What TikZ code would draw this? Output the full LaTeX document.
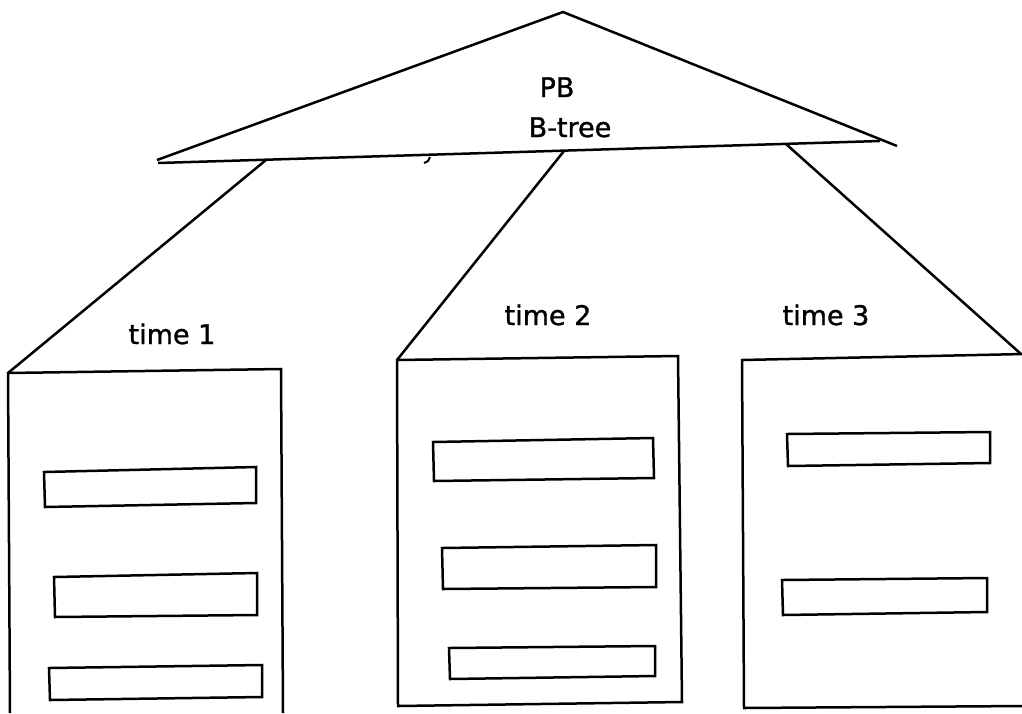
\documentclass[tikz,border=0pt]{standalone}
\usepackage{fontspec}
\setmainfont{DejaVu Sans}
\newfontfamily\lblfont{DejaVu Sans}[FakeBold=1.2]
\begin{document}
\begin{tikzpicture}[x=1pt,y=-1pt,
  outline/.style={draw=black,line width=2.5pt,line join=miter},
  label/.style={font=\lblfont\fontsize{27}{32}\selectfont,anchor=base,inner sep=0pt}]
\useasboundingbox[fill=white] (0,0) rectangle (1022,713);

% PB B-tree triangle
\coordinate (apex) at (563,12);
\coordinate (tl) at (157,160);
\coordinate (tr) at (897,146);
\coordinate (bl) at (158,163);
\coordinate (br) at (880,141);
\draw[outline] (tl) -- (apex) -- (tr);
\draw[outline] (bl) -- (br);
\draw[line width=2pt] (430,157) -- (428,161) -- (424,163);
\node[label] (pb) at (557,97) {PB};
\node[label] (bt) at (570,137) {B-tree};

% exits on the base of the tree
\coordinate (e1) at (266,160);
\coordinate (e2) at (564,151);
\coordinate (e3) at (786,144);

% time 1 page
\coordinate (p1tl) at (8,373);
\coordinate (p1tr) at (281,369);
\draw[outline] (10,713) -- (p1tl) -- (p1tr) -- (283,713);
\draw[outline] (44,472) -- (256,467) -- (256,503) -- (45,507) -- cycle;
\draw[outline] (54,577) -- (257,573) -- (257,615) -- (55,617) -- cycle;
\draw[outline] (49,668) -- (262,665) -- (262,697) -- (50,700) -- cycle;
\node[label] (t1) at (172,344) {time 1};

% time 2 page
\coordinate (p2tl) at (397,360);
\coordinate (p2tr) at (678,356);
\draw[outline] (p2tl) -- (p2tr) -- (682,702) -- (398,706) -- cycle;
\draw[outline] (433,442) -- (653,438) -- (654,478) -- (434,481) -- cycle;
\draw[outline] (442,548) -- (656,545) -- (656,587) -- (443,589) -- cycle;
\draw[outline] (449,648) -- (655,646) -- (655,676) -- (450,679) -- cycle;
\node[label] (t2) at (548,325) {time 2};

% time 3 page
\coordinate (p3tl) at (742,360);
\coordinate (p3tr) at (1021,354);
\draw[outline] (1024,706) -- (744,708) -- (p3tl) -- (1024,354);
\draw[outline] (787,434) -- (990,432) -- (990,463) -- (788,466) -- cycle;
\draw[outline] (782,580) -- (987,578) -- (987,612) -- (783,615) -- cycle;
\node[label] (t3) at (826,325) {time 3};

% connectors from the tree to the pages
\draw[outline] (e1) -- (p1tl);
\draw[outline] (e2) -- (p2tl);
\draw[outline] (e3) -- (p3tr);
\end{tikzpicture}
\end{document}
